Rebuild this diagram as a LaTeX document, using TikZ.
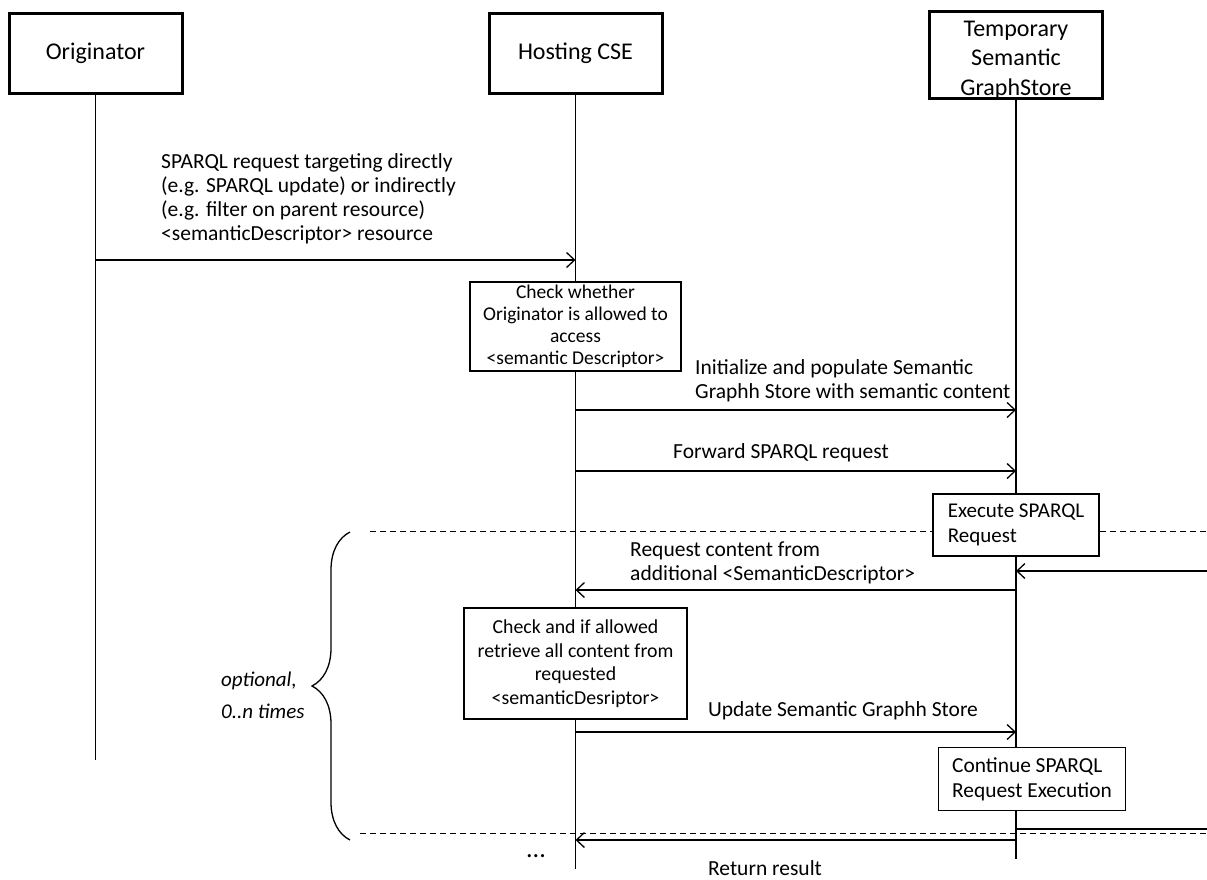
\documentclass[tikz,border=0pt]{standalone}
\usepackage{fontspec}
\setmainfont{Carlito}
\usetikzlibrary{arrows.meta, positioning, decorations.pathreplacing}

\tikzset{
  actor/.style={draw, line width=3pt, minimum width=173pt, minimum height=80pt,
    align=center, inner sep=0pt, font=\fontsize{24}{29.5}\selectfont},
  lifeline/.style={line width=1.3pt},
  msg/.style={line width=1.3pt, -{Straight Barb[length=8pt,width=15pt,line width=1.3pt]}},
  note/.style={draw, fill=white, line width=1.3pt, inner sep=0pt, font=\fontsize{19.5}{22}\selectfont},
  lbl/.style={inner sep=0pt, align=left, font=\fontsize{21.5}{24}\selectfont},
  loopline/.style={line width=1pt, dash pattern=on 6pt off 4pt}
}

\begin{document}
\begin{tikzpicture}[x=1pt,y=-1pt]
  \path[use as bounding box, fill=white] (0,0) rectangle (1207,879);

  % Participants
  \node[actor] (orig) at (95.5,53) {\raisebox{-3pt}{Originator}};
  \node[actor] (host) at (575.5,53) {\raisebox{-3pt}{Hosting CSE}};
  \node[actor, minimum height=84pt] (store) at (1016,55)
    {\rule{0pt}{25pt}Temporary\\Semantic\\GraphStore};

  % Lifelines
  \coordinate (oend) at (95.5,760);
  \coordinate (hend) at (575.5,869);
  \coordinate (send) at (1016,859);
  \draw[lifeline] (orig.south) -- (oend);
  \draw[lifeline] (host.south) -- (hend);
  \draw[lifeline] (store.south) -- (send);

  % Loop frame
  \coordinate (lt1) at (370,531);
  \coordinate (lt2) at (1207,531);
  \coordinate (lb1) at (360,833);
  \coordinate (lb2) at (1207,833);
  \draw[loopline] (lt1) -- (lt2);
  \draw[loopline] (lb1) -- (lb2);
  \coordinate (bt) at (350,532);
  \coordinate (bb) at (350,840);
  \draw[line width=1.3pt, decorate, decoration={brace, amplitude=38pt}] (bb) -- (bt);
  \node[lbl, anchor=west, font=\fontsize{21}{32}\selectfont\itshape] (opt) at (221,695)
    {optional,\\0..n times};

  % Message rows
  \coordinate (r1) at (0,260);
  \coordinate (r2) at (0,410);
  \coordinate (r3) at (0,471);
  \coordinate (r4) at (0,590);
  \coordinate (r5) at (0,732);
  \coordinate (r6) at (0,840);

  \node[lbl, anchor=west] (m1) at (161,199)
    {SPARQL request targeting directly\\(e.g. SPARQL update) or indirectly\\(e.g. filter on parent resource)\\<semanticDescriptor> resource};
  \draw[msg] (orig |- r1) -- (host |- r1);

  \node[note, minimum width=211pt, minimum height=89pt, align=center] (chk1) at (575.5,326.5)
    {Check whether\\Originator is allowed to\\access\\<semantic Descriptor>};

  \node[lbl, anchor=west] (m2) at (695,381)
    {Initialize and populate Semantic\\Graphh Store with semantic content};
  \draw[msg] (host |- r2) -- (store |- r2);

  \node[lbl] (m3) at (781,453) {Forward SPARQL request};
  \draw[msg] (host |- r3) -- (store |- r3);

  \node[note, minimum width=166pt, minimum height=62pt, align=left,
    font=\fontsize{21}{25}\selectfont] (exec) at (1016,525)
    {Execute SPARQL\\Request};

  \coordinate (ext1) at (1207,571);
  \draw[msg] (ext1) -- (store |- ext1);

  \node[lbl, anchor=west] (m4) at (630,563)
    {Request content from\\additional <SemanticDescriptor>};
  \draw[msg] (store |- r4) -- (host |- r4);

  \node[note, minimum width=223pt, minimum height=111pt, align=center,
    font=\fontsize{19.8}{23.5}\selectfont] (chk2) at (575.5,663.5)
    {Check and if allowed\\retrieve all content from\\requested\\<semanticDesriptor>};

  \node[lbl] (m5) at (843,711) {Update Semantic Graphh Store};
  \draw[msg] (host |- r5) -- (store |- r5);

  \node[note, minimum width=187pt, minimum height=63pt, align=left,
    font=\fontsize{21.4}{25}\selectfont] (cont) at (1032,779)
    {Continue SPARQL\\Request Execution};

  % Return
  \coordinate (ext2) at (1207,829);
  \draw[line width=1.3pt] (ext2) -- (store |- ext2);
  \draw[msg] (store |- r6) -- (host |- r6);
  \node[lbl] (m6) at (765,868) {Return result};
  \node[lbl, font=\fontsize{26}{26}\selectfont] (dots) at (536,856) {...};
\end{tikzpicture}
\end{document}
